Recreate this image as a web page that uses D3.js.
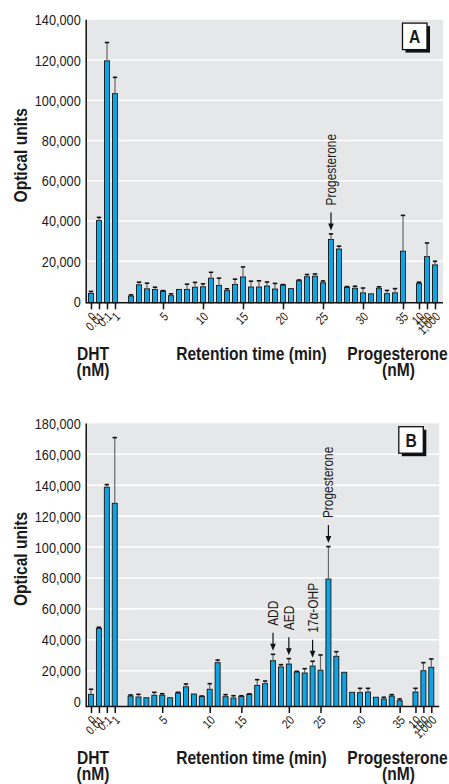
<!DOCTYPE html>
<html>
<head>
<meta charset="utf-8">
<script src="https://cdn.jsdelivr.net/npm/d3@7"></script>
<style>
  html, body { margin: 0; padding: 0; background: #fff; }
  svg { display: block; }
  text { font-family: "Liberation Sans", Arial, sans-serif; fill: #1a1a1a; }
</style>
</head>
<body>
<svg id="chart" width="449" height="784"></svg>
<script>
// ---- categories ----
const dhtLabels = ["0", "0.01", "0.1", "1"];          // DHT standards (nM)
const minutes = d3.range(1, 36);                       // HPLC fractions, retention time (min)
const progLabels = ["10", "100", "1,000"];             // progesterone standards (nM)

// ---- panel A values (optical units, mean and error) ----
const dhtA = [4000, 40200, 119600, 103300];
const dhtErrA = [1000, 1600, 9100, 8100];
const retA = [2700, 8300, 6300, 6000, 5200, 2900, 6000, 6000, 7100, 7300,
              11600, 8000, 5400, 8500, 12200, 7200, 7200, 7700, 6200, 8200,
              6400, 10300, 12300, 12600, 9300, 30800, 26100, 7100, 6600, 4300,
              3800, 6600, 3900, 4300, 25000];
const retErrA = [600, 1300, 2800, 1100, 200, 900, 0, 2600, 2400, 1500,
                 2900, 3600, 900, 2600, 5000, 2900, 3100, 2000, 2800, 200,
                 0, 400, 1100, 1100, 900, 2800, 1400, 300, 1000, 2400,
                 0, 700, 1600, 2100, 17800];
const progA = [8900, 22300, 18200];
const progErrA = [700, 6800, 1800];

// ---- panel B values ----
const dhtB = [4700, 47400, 138700, 128300];
const dhtErrB = [3300, 700, 1700, 42500];
const retB = [3600, 3000, 2500, 4100, 4100, 2500, 5600, 9600, 4900, 3400,
              8000, 25200, 3200, 2300, 3400, 4700, 10500, 11600, 26500, 22400,
              24300, 19200, 18500, 23000, 20300, 79300, 29300, 19000, 6000, 5800,
              6200, 2800, 1700, 3600, 600];
const retErrB = [700, 1700, 0, 1900, 1000, 0, 400, 1800, 0, 200,
                 3600, 1700, 1300, 1500, 400, 300, 3700, 1700, 4100, 1500,
                 3500, 400, 2800, 3100, 9900, 21000, 3000, 0, 0, 2800,
                 2400, 0, 1100, 900, 1100];
const progB = [6200, 20000, 22200];
const progErrB = [2400, 5200, 5400];

// ---- axis ticks ----
const yTicksA = [0, 20000, 40000, 60000, 80000, 100000, 120000, 140000];
const yTicksB = [0, 20000, 40000, 60000, 80000, 100000, 120000, 140000, 160000, 180000];
const minuteTickLabels = ["5", "10", "15", "20", "25", "30", "35"];
const minuteTickSlotsA = [5, 10, 15, 20, 25, 30, 35];
const minuteTickSlotsB = [5, 11, 15, 21, 25, 30, 35];

// ---- peak annotations ----
const notesA = [{ label: "Progesterone", minute: 26 }];
const notesB = [
  { label: "ADD", minute: 19 },
  { label: "AED", minute: 21 },
  { label: "17\u03b1-OHP", minute: 24 },
  { label: "Progesterone", minute: 26 }
];

const BLUE = "#0ea4e3";
const GRID_BG = "#e6e7e9";
const CONDENSE = 0.82;   // condensed sans look
const svg = d3.select("#chart");

// slot index along the x axis: DHT at -4..-1, minutes at 1..35, progesterone at 37..39
function buildRows(dht, dhtErr, ret, retErr, prog, progErr) {
  const rows = [];
  dhtLabels.forEach((l, i) => rows.push({ slot: i - 4, v: dht[i], e: dhtErr[i] }));
  minutes.forEach((m, i) => rows.push({ slot: m, v: ret[i], e: retErr[i] }));
  progLabels.forEach((l, i) => rows.push({ slot: 37 + i, v: prog[i], e: progErr[i] }));
  return rows;
}

function drawPanel(cfg) {
  const g = svg.append("g");
  const x = d3.scaleLinear().domain([-4, 39]).range(cfg.xRange);
  const y = d3.scaleLinear().domain([0, cfg.yMax]).range([cfg.zeroY, cfg.topY]);
  const left = cfg.xRange[0] - 4.8;
  const right = cfg.xRange[1] + 8;
  const base = cfg.axisY;

  // plot background and gridlines
  g.append("rect").attr("x", left).attr("y", cfg.topY)
    .attr("width", right - left).attr("height", base - cfg.topY).attr("fill", GRID_BG);
  g.selectAll("line.grid").data(cfg.yTicks.filter(t => t > 0 && t < cfg.yMax)).join("line")
    .attr("x1", left).attr("x2", right)
    .attr("y1", d => y(d)).attr("y2", d => y(d))
    .attr("stroke", "#fff").attr("stroke-width", 1.6);

  // y axis labels
  const yAxis = d3.axisLeft(y).tickValues(cfg.yTicks).tickSize(0).tickPadding(0)
    .tickFormat(d3.format(","));
  const ya = g.append("g").attr("transform", `translate(${left - 5.5},0)`).call(yAxis);
  ya.select(".domain").remove();
  ya.selectAll("text").attr("font-size", 15.5).attr("fill", "#1a1a1a")
    .style("font-family", '"Liberation Sans", Arial, sans-serif');

  // x axis ticks and rotated labels
  const tickSlots = [-4, -3, -2, -1].concat(cfg.minuteTickSlots, [37, 38, 39]);
  const tickText = dhtLabels.concat(minuteTickLabels, progLabels);
  const xAxis = d3.axisBottom(x).tickValues(tickSlots).tickSize(6.5)
    .tickFormat((d, i) => tickText[i]);
  const xa = g.append("g").attr("transform", `translate(0,${base})`).call(xAxis);
  xa.select(".domain").remove();
  xa.selectAll(".tick line").attr("stroke", "#111").attr("stroke-width", 1.5);
  xa.selectAll(".tick text")
    .attr("x", 0).attr("y", 0).attr("dy", "0.35em")
    .attr("text-anchor", "end")
    .attr("transform", "translate(2.5,11.5) rotate(-45)")
    .attr("font-size", 12.5).attr("fill", "#1a1a1a")
    .style("font-family", '"Liberation Sans", Arial, sans-serif');

  // bars
  const rows = cfg.rows;
  const bw = 5;
  g.selectAll("rect.bar").data(rows).join("rect")
    .attr("x", d => x(d.slot) - bw / 2).attr("width", bw)
    .attr("y", d => y(d.v)).attr("height", d => base - y(d.v))
    .attr("fill", BLUE).attr("stroke", "#141414").attr("stroke-width", 0.9);

  // error bars
  const withErr = rows.filter(d => d.e > 0);
  g.selectAll("line.err").data(withErr).join("line")
    .attr("x1", d => x(d.slot)).attr("x2", d => x(d.slot))
    .attr("y1", d => y(d.v)).attr("y2", d => y(d.v + d.e))
    .attr("stroke", "#666").attr("stroke-width", 1.2);
  g.selectAll("line.cap").data(withErr).join("line")
    .attr("x1", d => x(d.slot) - 2.2).attr("x2", d => x(d.slot) + 2.2)
    .attr("y1", d => y(d.v + d.e)).attr("y2", d => y(d.v + d.e))
    .attr("stroke", "#111").attr("stroke-width", 1.6);

  // axis lines
  g.append("line").attr("x1", left).attr("x2", left).attr("y1", cfg.topY).attr("y2", base + 0.75)
    .attr("stroke", "#111").attr("stroke-width", 1.5);
  g.append("line").attr("x1", left).attr("x2", right).attr("y1", base).attr("y2", base)
    .attr("stroke", "#111").attr("stroke-width", 1.5);

  // peak annotations: label + downward arrow above the error bar
  cfg.notes.forEach(n => {
    const d = rows.find(r => r.slot === n.minute);
    const cx = x(d.slot);
    const tip = y(d.v + d.e) - 3.5;
    const start = tip - 18;
    g.append("line").attr("x1", cx).attr("x2", cx).attr("y1", start).attr("y2", tip - 5)
      .attr("stroke", "#111").attr("stroke-width", 1.2);
    g.append("path")
      .attr("d", `M${cx - 2.8},${tip - 7} L${cx + 2.8},${tip - 7} L${cx},${tip} Z`)
      .attr("fill", "#111");
    g.append("text")
      .attr("transform", `translate(${cx},${start - 7}) rotate(-90)`)
      .attr("dy", "0.35em").attr("text-anchor", "start")
      .attr("font-size", 14.5).text(n.label);
  });

  // axis titles
  const t1 = base + 57.5, t2 = base + 73.5;
  const bold = (tx, ty, s) => g.append("text").attr("x", tx).attr("y", ty)
    .attr("text-anchor", "middle").attr("font-weight", "bold")
    .attr("font-size", 19).text(s);
  bold(93, t1, "DHT");
  bold(93, t2, "(nM)");
  bold(251.5, t1, "Retention time (min)");
  bold(397.5, t1, "Progesterone");
  bold(398.5, t2, "(nM)");
  g.append("text")
    .attr("transform", `translate(20.5,${(cfg.topY + base) / 2 - 6}) rotate(-90)`)
    .attr("dy", "0.35em").attr("text-anchor", "middle")
    .attr("font-weight", "bold").attr("font-size", 19).text("Optical units");

  // panel letter box with drop shadow
  const bx = right - 40.5, by = cfg.topY + 3.3, bwid = 24.5, bh = 26.5;
  g.append("rect").attr("x", bx + 3).attr("y", by + 3).attr("width", bwid).attr("height", bh)
    .attr("fill", "#111");
  g.append("rect").attr("x", bx).attr("y", by).attr("width", bwid).attr("height", bh)
    .attr("fill", "#fff").attr("stroke", "#111").attr("stroke-width", 1.3);
  g.append("text").attr("x", bx + bwid / 2).attr("y", by + bh / 2).attr("dy", "0.36em")
    .attr("text-anchor", "middle").attr("font-weight", "bold").attr("font-size", 19)
    .text(cfg.letter);
}

drawPanel({
  letter: "A",
  rows: buildRows(dhtA, dhtErrA, retA, retErrA, progA, progErrA),
  yMax: 140000, yTicks: yTicksA,
  zeroY: 301.5, topY: 19.8, axisY: 302.8,
  xRange: [91, 435],
  minuteTickSlots: minuteTickSlotsA,
  notes: notesA
});

drawPanel({
  letter: "B",
  rows: buildRows(dhtB, dhtErrB, retB, retErrB, progB, progErrB),
  yMax: 180000, yTicks: yTicksB,
  zeroY: 701.6, topY: 423.4, axisY: 706.5,
  xRange: [91, 431.3],
  minuteTickSlots: minuteTickSlotsB,
  notes: notesB
});

// compress every label horizontally for a condensed typeface look
svg.selectAll("text").each(function () {
  const len = this.getComputedTextLength();
  this.setAttribute("textLength", (len * CONDENSE).toFixed(2));
  this.setAttribute("lengthAdjust", "spacingAndGlyphs");
});
</script>
</body>
</html>
